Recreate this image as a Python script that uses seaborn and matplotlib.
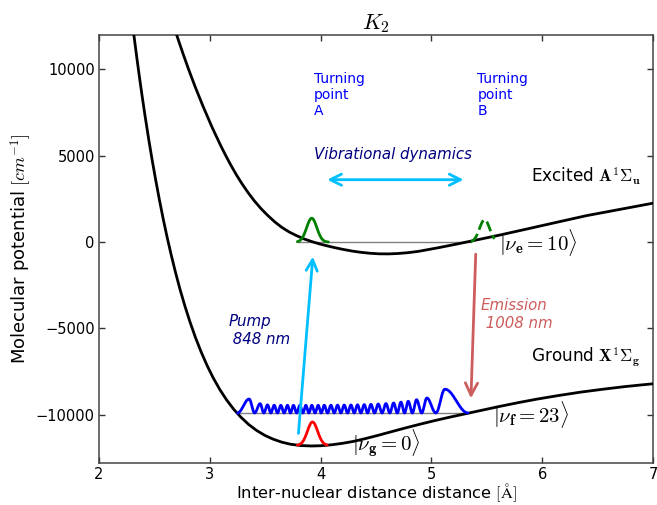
import numpy as np
import pandas as pd
import matplotlib
matplotlib.use("Agg")
import matplotlib.pyplot as plt
import seaborn as sns

# ---------------- data ----------------
# Ground X state potential curve (r in Angstrom, V in cm^-1)
ground_r = [2.29, 2.315, 2.34, 2.365, 2.39, 2.415, 2.45, 2.48, 2.51, 2.545, 2.58, 2.615,
            2.65, 2.69, 2.73, 2.775, 2.82, 2.87, 2.92, 2.975, 3.03, 3.09, 3.15, 3.215,
            3.28, 3.35, 3.42, 3.495, 3.57, 3.65, 3.73, 3.825, 3.92, 4.00, 4.10, 4.20,
            4.30, 4.41, 4.52, 4.64, 4.76, 4.89, 5.02, 5.16, 5.30, 5.45, 5.60, 5.78,
            5.95, 6.15, 6.35, 6.55, 6.75, 6.90, 7.05]
ground_V = [13270, 11968, 10730, 9541, 8410, 7325, 5890, 4735, 3650, 2447, 1320, 274,
            -700, -1743, -2710, -3696, -4600, -5512, -6330, -7136, -7850, -8529, -9120, -9669,
            -10130, -10550, -10890, -11180, -11400, -11578, -11700, -11776, -11800, -11785,
            -11730, -11642, -11529, -11363, -11181, -10971, -10765, -10550, -10345, -10139,
            -9946, -9739, -9530, -9295, -9090, -8876, -8680, -8513, -8360, -8262, -8170]

# Excited A state potential curve
excited_r = [2.68, 2.72, 2.76, 2.81, 2.87, 2.94, 3.02, 3.10, 3.145, 3.19, 3.24, 3.29,
             3.345, 3.40, 3.46, 3.52, 3.585, 3.65, 3.715, 3.78, 3.85, 3.92, 3.99, 4.06,
             4.13, 4.20, 4.28, 4.36, 4.445, 4.53, 4.615, 4.70, 4.79, 4.88, 5.06, 5.24,
             5.42, 5.62, 5.85, 6.10, 6.40, 6.70, 7.05]
excited_V = [12400, 11620, 10870, 9970, 8950, 7840, 6650, 5560, 4990, 4450, 3890, 3380,
             2866, 2400, 1951, 1560, 1175, 850, 590, 380, 183, 30, -107, -220,
             -326, -420, -515, -590, -647, -680, -684, -660, -612, -540, -330, -100,
             140, 410, 740, 1100, 1530, 1890, 2310]

# |nu_g = 0> packet: centre, width, height, level, extent
vg_center, vg_sigma, vg_height, vg_level = 3.927, 0.046, 1350, -11760
vg_extent = [3.79, 4.06]

# |nu_e = 10> packets at the turning points
ve_level = 0
veA_center, veA_sigma, veA_height, veA_extent = 3.92, 0.046, 1380, [3.79, 4.07]
veB_center, veB_sigma, veB_height, veB_extent = 5.48, 0.046, 1290, [5.357, 5.57]

# |nu_f = 23> density: level, lobe peak positions and heights, outer nodes
vf_level = -9890
vf_ends = [3.25, 5.33]
vf_peak_r = [3.355, 3.454, 3.521, 3.581, 3.641, 3.701, 3.755, 3.813, 3.867, 3.921,
             3.978, 4.033, 4.093, 4.153, 4.213, 4.274, 4.333, 4.394, 4.454, 4.520,
             4.590, 4.659, 4.725, 4.791, 4.866, 4.959, 5.122]
vf_peak_h = [810, 540, 470, 450, 445, 445, 445, 445, 445, 445,
             445, 450, 450, 455, 460, 465, 475, 485, 500, 520,
             545, 580, 630, 680, 770, 870, 1380]

# arrows (start, end)
pump_arrow = [(3.80, -11070), (3.93, -840)]
emission_arrow = [(5.40, -700), (5.357, -9040)]
vib_arrow = [(4.06, 3610), (5.29, 3610)]

# ---------------- style ----------------
sns.set_style("ticks")
plt.rcParams["font.family"] = ["DejaVu Sans"]
plt.rcParams["mathtext.fontset"] = "cm"
plt.rcParams["text.color"] = "black"
plt.rcParams["axes.labelcolor"] = "black"

fig = plt.figure(figsize=(6.57, 5.05), dpi=100)
ax = fig.add_axes([0.1507, 0.0826, 0.8432, 0.8487])

# level lines
ax.plot(vf_ends, [vf_level, vf_level], color="grey", lw=1, zorder=1)
ax.plot(vg_extent, [vg_level, vg_level], color="grey", lw=1, zorder=1)
ax.plot([veA_extent[0], veB_extent[0]], [ve_level, ve_level], color="grey", lw=1, zorder=1)

# potential curves
pot = pd.DataFrame({"r": ground_r + excited_r,
                    "V": ground_V + excited_V,
                    "state": ["X"] * len(ground_r) + ["A"] * len(excited_r)})
sns.lineplot(data=pot, x="r", y="V", units="state", estimator=None, sort=False,
             color="black", lw=2, ax=ax, zorder=3)


def gauss_packet(center, sigma, height, level, extent, n=80):
    x = np.linspace(extent[0], extent[1], n)
    return x, level + height * np.exp(-0.5 * ((x - center) / sigma) ** 2)


x, y = gauss_packet(vg_center, vg_sigma, vg_height, vg_level, vg_extent)
sns.lineplot(x=x, y=y, color="red", lw=2, sort=False, estimator=None, ax=ax, zorder=4)
x, y = gauss_packet(veA_center, veA_sigma, veA_height, ve_level, veA_extent)
sns.lineplot(x=x, y=y, color="green", lw=2, sort=False, estimator=None, ax=ax, zorder=4)
x, y = gauss_packet(veB_center, veB_sigma, veB_height, ve_level, veB_extent)
sns.lineplot(x=x, y=y, color="green", lw=2, ls="--", sort=False, estimator=None, ax=ax, zorder=4)

# nu_f = 23 lobes
nodes = [vf_ends[0]] + [(a + b) / 2 for a, b in zip(vf_peak_r[:-1], vf_peak_r[1:])] + [vf_ends[1]]
wx, wy = [], []
for i, (p, h) in enumerate(zip(vf_peak_r, vf_peak_h)):
    a, b = nodes[i], nodes[i + 1]
    t1 = np.linspace(0, 1, 12)
    wx.extend(a + (p - a) * t1)
    wy.extend(vf_level + h * np.sin(np.pi / 2 * t1) ** 2)
    t2 = np.linspace(0, 1, 12)[1:]
    wx.extend(p + (b - p) * t2)
    wy.extend(vf_level + h * np.cos(np.pi / 2 * t2) ** 2)
sns.lineplot(x=wx, y=wy, color="blue", lw=2, sort=False, estimator=None, ax=ax, zorder=4)

# arrows
ax.annotate("", xy=pump_arrow[1], xytext=pump_arrow[0],
            arrowprops=dict(arrowstyle="->", color="deepskyblue", lw=2,
                            mutation_scale=20, shrinkA=0, shrinkB=0), zorder=5)
ax.annotate("", xy=emission_arrow[1], xytext=emission_arrow[0],
            arrowprops=dict(arrowstyle="->", color="indianred", lw=2,
                            mutation_scale=22, shrinkA=0, shrinkB=0), zorder=5)
ax.annotate("", xy=vib_arrow[1], xytext=vib_arrow[0],
            arrowprops=dict(arrowstyle="<->", color="deepskyblue", lw=2,
                            mutation_scale=20, shrinkA=0, shrinkB=0), zorder=5)

# texts
ax.text(3.942, 9850, "Turning\npoint\nA", color="blue", fontsize=10, va="top", ha="left")
ax.text(5.415, 9850, "Turning\npoint\nB", color="blue", fontsize=10, va="top", ha="left")
ax.text(3.942, 5060, "Vibrational dynamics", color="navy", fontsize=10.8, style="italic",
        va="center", ha="left")
ax.text(3.168, -5113, "Pump\n 848 nm", color="navy", fontsize=10.8, style="italic",
        va="center", ha="left")
ax.text(5.448, -4197, "Emission\n 1008 nm", color="indianred", fontsize=10.8, style="italic",
        va="center", ha="left")
ax.text(5.90, 3840, r"Excited $\mathbf{A}^1\Sigma_\mathbf{u}$", fontsize=12.2,
        va="center", ha="left")
ax.text(5.90, -6640, r"Ground $\mathbf{X}^1\Sigma_\mathbf{g}$", fontsize=12.2,
        va="center", ha="left")
ax.text(5.613, -20, r"$|\nu_\mathbf{e}=10\rangle$", fontsize=15, va="center", ha="left")
ax.text(5.56, -9950, r"$|\nu_\mathbf{f}=23\rangle$", fontsize=15, va="center", ha="left")
ax.text(4.28, -11700, r"$|\nu_\mathbf{g}=0\rangle$", fontsize=15, va="center", ha="left")

# axes
ax.set_xlim(2, 7)
ax.set_ylim(-12800, 12000)
ax.set_xticks([2, 3, 4, 5, 6, 7])
ax.set_yticks([-10000, -5000, 0, 5000, 10000])
ax.tick_params(direction="in", top=True, right=True, length=4, width=1,
               labelsize=10.5, pad=3, colors="#333333", labelcolor="black")
ax.tick_params(axis="x", pad=2.5)
for s in ax.spines.values():
    s.set_visible(True)
    s.set_color("#444444")
    s.set_linewidth(1.1)
ax.set_xlabel(r"Inter-nuclear distance distance $[\mathrm{\AA}]$", fontsize=11.8, labelpad=-0.5)
ax.set_ylabel(r"Molecular potential $[cm^{-1}]$", fontsize=13, labelpad=1)
ax.set_title(r"$K_2$", fontsize=16, pad=4)

fig.savefig("out.png", dpi=100)
